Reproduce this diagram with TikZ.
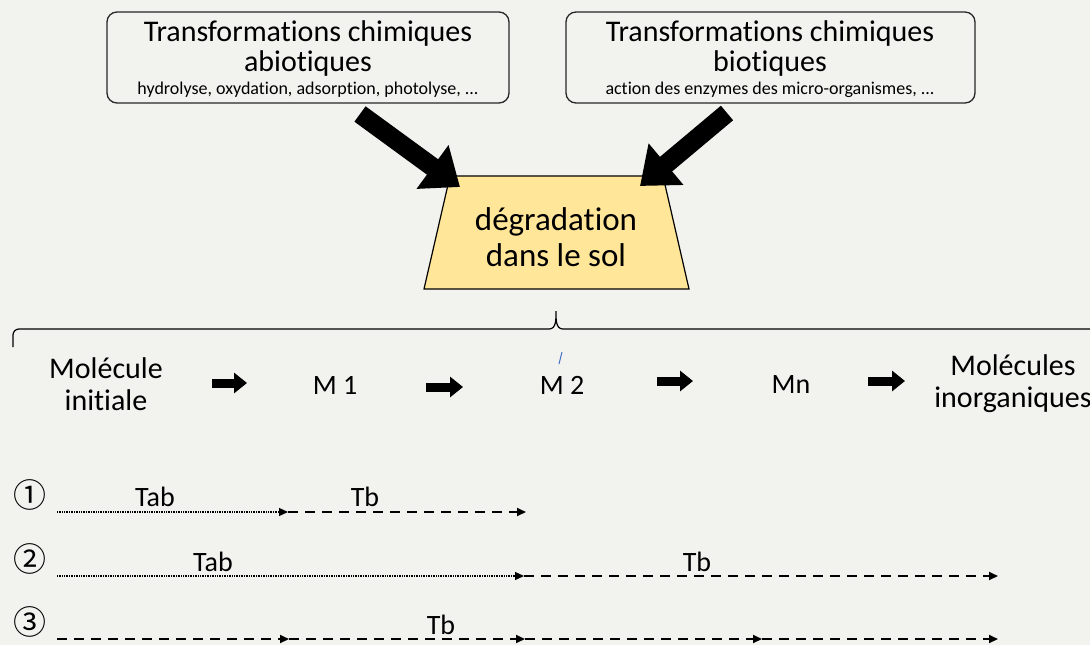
\documentclass[tikz,border=0pt]{standalone}
\usepackage{fontspec}
\setmainfont[RawFeature=-liga]{Carlito}
\newfontfamily\symfont{Noto Sans CJK SC}
\usetikzlibrary{arrows.meta}
\definecolor{bg}{HTML}{F2F2EE}
\definecolor{trap}{HTML}{FFE699}
\definecolor{markblue}{HTML}{4472C4}
\tikzset{
  srcbox/.style={draw=black!85, line width=1.3pt, rounded corners=10pt, fill=bg},
  bigarrow/.style={line width=19pt, -{Triangle[length=34pt,width=52pt]}},
  smallarrow/.style={line width=9pt, -{Triangle[length=13pt,width=20pt]}},
  dotline/.style={line width=1.3pt, dash pattern=on 1pt off 0.7pt, -{Triangle[length=9pt,width=8pt]}},
  dashline/.style={line width=2pt, dash pattern=on 10pt off 7pt, -{Triangle[length=9pt,width=8pt]}},
  big/.style={font=\fontsize{30}{30}\selectfont, align=center, inner sep=0pt},
  small/.style={font=\fontsize{18}{18}\selectfont, inner sep=0pt},
  mid/.style={font=\fontsize{28}{32}\selectfont, align=center, inner sep=0pt},
  lab/.style={font=\fontsize{28}{30}\selectfont, inner sep=0pt},
  num/.style={font=\symfont\fontsize{33}{33}\selectfont, inner sep=0pt}
}
\begin{document}
\begin{tikzpicture}[x=1pt,y=-1pt]
\fill[bg] (0,0) rectangle (1090,645);
\useasboundingbox (0,0) rectangle (1090,645);
% source boxes
\draw[srcbox] (107,12) rectangle (509,103);
\node[big] (abt) at (308,49) {Transformations chimiques\\abiotiques};
\node[small] (abs) at (308,90) {hydrolyse, oxydation, adsorption, photolyse, ...};
\draw[srcbox] (566,12) rectangle (975,103);
\node[big] (bt) at (770,49) {Transformations chimiques\\biotiques};
\node[small] (bs) at (770,90) {action des enzymes des micro-organismes, ...};
% trapezoid
\draw[fill=trap, line width=1.2pt, draw=black] (450,176) -- (663,176) -- (689,289) -- (424,289) -- cycle;
\node[font=\fontsize{33}{36}\selectfont, align=center, inner sep=0pt] (deg) at (556,237) {dégradation\\dans le sol};
\coordinate (s1) at (360,114);
\coordinate (t1) at (460,187);
\coordinate (s2) at (727,113);
\coordinate (t2) at (640,186);
\draw[bigarrow] (s1) -- (t1);
\draw[bigarrow] (s2) -- (t2);
% brace
\draw[line width=1.2pt] (13,347) -- (13,335) to[out=90,in=180] (19,329) -- (549,329) to[out=0,in=-90] (556,311) to[out=-90,in=180] (563,329) -- (1092,329);
\coordinate (m1) at (559,364);
\coordinate (m2) at (562,352);
\draw[markblue, line width=1pt] (m1) -- (m2);
% chain
\node[mid, font=\fontsize{30}{32}\selectfont] (mi) at (106,384) {Molécule\\initiale};
\node[mid] (M1) at (335,385) {M 1};
\node[mid] (M2) at (562,385) {M 2};
\node[mid] (Mn) at (791,385) {Mn};
\node[mid, font=\fontsize{30}{32}\selectfont] (mo) at (1013,384) {Molécules\\inorganiques};
\coordinate (a1s) at (212,383); \coordinate (a1e) at (247,383);
\coordinate (a2s) at (426,387); \coordinate (a2e) at (463,387);
\coordinate (a3s) at (657,381); \coordinate (a3e) at (693,381);
\coordinate (a4s) at (868,381); \coordinate (a4e) at (905,381);
\draw[smallarrow] (a1s) -- (a1e);
\draw[smallarrow] (a2s) -- (a2e);
\draw[smallarrow] (a3s) -- (a3e);
\draw[smallarrow] (a4s) -- (a4e);
% scenario 1
\node[num] (n1) at (30,495) {①};
\coordinate (p1a) at (57,512); \coordinate (p1b) at (288,512); \coordinate (p1c) at (526,512);
\draw[dotline] (p1a) -- (p1b);
\draw[dashline] (p1b) -- (p1c);
\node[lab] (tab1) at (155,497) {Tab};
\node[lab] (tb1) at (365,497) {Tb};
% scenario 2
\node[num] (n2) at (30,559) {②};
\coordinate (p2a) at (57,576); \coordinate (p2b) at (524,576); \coordinate (p2c) at (998,576);
\draw[dotline] (p2a) -- (p2b);
\draw[dashline] (p2b) -- (p2c);
\node[lab] (tab2) at (213,562) {Tab};
\node[lab] (tb2) at (697,562) {Tb};
% scenario 3
\node[num] (n3) at (30,622) {③};
\coordinate (p3a) at (57,639); \coordinate (p3b) at (289,639); \coordinate (p3c) at (525,639);
\coordinate (p3d) at (762,639); \coordinate (p3e) at (998,639);
\draw[dashline] (p3a) -- (p3b);
\draw[dashline] (p3b) -- (p3c);
\draw[dashline] (p3c) -- (p3d);
\draw[dashline] (p3d) -- (p3e);
\node[lab] (tb3) at (441,625) {Tb};
\end{tikzpicture}
\end{document}
